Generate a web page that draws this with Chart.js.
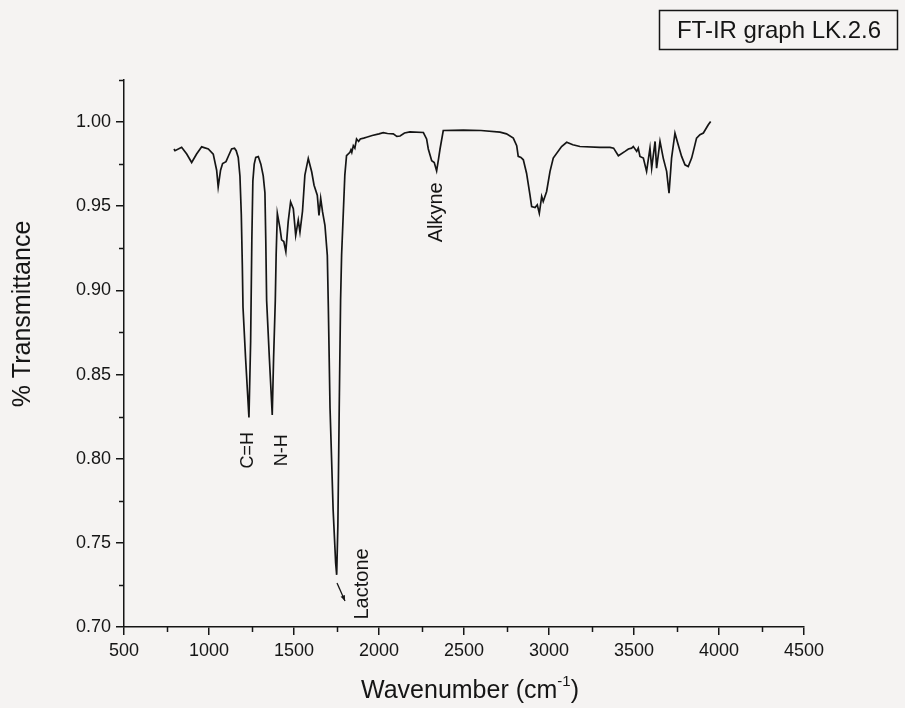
<!DOCTYPE html>
<html><head><meta charset="utf-8">
<script src="https://cdn.jsdelivr.net/npm/chart.js@4.4.0/dist/chart.umd.min.js"></script>
<style>html,body{margin:0;padding:0;background:#f5f3f2;} canvas{display:block}</style>
</head><body>
<canvas id="c" width="905" height="708"></canvas>
<script>
const wavenumbers = [794,800,839,869,898,927,957,996,1025,1045,1054,1068,1080,1100,1115,1133,1150,1160,1172,1182,1190,1196,1200,1215,1235,1245,1252,1258,1266,1275,1290,1305,1319,1329,1334,1339,1355,1372,1380,1390,1395,1402,1418,1427,1440,1452,1466,1480,1496,1510,1525,1535,1550,1564,1584,1604,1618,1637,1647,1657,1668,1682,1696,1702,1712,1730,1745,1751,1758,1766,1774,1780,1799,1809,1829,1835,1840,1849,1858,1868,1880,1890,1910,1927,1960,2000,2025,2050,2084,2105,2124,2150,2182,2261,2280,2290,2310,2325,2339,2350,2359,2378,2496,2600,2712,2750,2790,2810,2819,2835,2849,2868,2888,2898,2918,2931,2943,2957,2966,2986,3006,3025,3074,3104,3140,3182,3300,3359,3380,3408,3447,3467,3486,3496,3516,3525,3535,3555,3574,3594,3604,3624,3633,3653,3672,3692,3706,3721,3741,3760,3780,3800,3819,3839,3849,3868,3888,3908,3937,3951];
const transmittance = [0.984,0.983,0.985,0.981,0.976,0.981,0.9853,0.984,0.981,0.9714,0.9615,0.9714,0.9754,0.9765,0.980,0.984,0.9845,0.983,0.979,0.968,0.945,0.915,0.89,0.86,0.8245,0.87,0.93,0.965,0.975,0.979,0.9795,0.975,0.968,0.958,0.93,0.894,0.86,0.826,0.86,0.894,0.921,0.9457,0.9367,0.930,0.929,0.923,0.941,0.9526,0.9486,0.9327,0.9417,0.9347,0.947,0.9685,0.9784,0.9705,0.9625,0.9565,0.9446,0.9546,0.9466,0.9387,0.9208,0.89,0.83,0.77,0.738,0.731,0.76,0.83,0.894,0.921,0.9685,0.980,0.982,0.9835,0.982,0.986,0.9845,0.990,0.9885,0.990,0.9905,0.991,0.992,0.993,0.9937,0.9932,0.993,0.9915,0.9917,0.9935,0.9942,0.9938,0.990,0.984,0.977,0.976,0.971,0.978,0.984,0.995,0.9952,0.995,0.994,0.993,0.9905,0.986,0.9796,0.979,0.9776,0.9696,0.9567,0.9498,0.9492,0.9508,0.9458,0.9558,0.9528,0.9588,0.9707,0.9786,0.9855,0.988,0.9865,0.9855,0.985,0.985,0.9845,0.980,0.9826,0.984,0.9845,0.9855,0.9826,0.9845,0.9796,0.9786,0.9707,0.9845,0.9726,0.9885,0.9726,0.9885,0.9786,0.9707,0.9577,0.9786,0.9934,0.9865,0.9796,0.9746,0.9736,0.9786,0.9826,0.9905,0.9925,0.9935,0.9984,1.0004];
const xTickValues = [500,1000,1500,2000,2500,3000,3500,4000,4500];
const yTickValues = [0.70,0.75,0.80,0.85,0.90,0.95,1.00];
const xMinorTicks = [750,1250,1750,2250,2750,3250,3750,4250];
const yMinorTicks = [0.725,0.775,0.825,0.875,0.925,0.975,1.025];
const peakLabels = ['C=H','N-H','Lactone','Alkyne'];
const chartTitle = 'FT-IR graph LK.2.6';
const xTitle = 'Wavenumber (cm';
const xTitleSup = '-1';
const yTitle = '% Transmittance';

const FONT = '"Liberation Sans", Arial, sans-serif';
const INK = '#151515';
const PAPER = '#f5f3f2';

const decor = {
  id: 'decor',
  beforeDraw(chart) {
    const ctx = chart.ctx;
    ctx.save();
    ctx.fillStyle = PAPER;
    ctx.fillRect(0, 0, chart.width, chart.height);
    ctx.restore();
  },
  afterDraw(chart) {
    const ctx = chart.ctx;
    const xs = chart.scales.x, ys = chart.scales.y;
    const area = chart.chartArea;
    ctx.save();
    ctx.strokeStyle = INK;
    ctx.lineWidth = 1.5;
    // minor ticks
    ctx.beginPath();
    xMinorTicks.forEach(v => {
      const px = Math.round(xs.getPixelForValue(v)) + 0.5;
      ctx.moveTo(px, area.bottom);
      ctx.lineTo(px, area.bottom + 5);
    });
    yMinorTicks.forEach(v => {
      const py = Math.round(ys.getPixelForValue(v)) + 0.5;
      ctx.moveTo(area.left, py);
      ctx.lineTo(area.left - 5, py);
    });
    ctx.stroke();

    ctx.fillStyle = INK;
    // y title
    ctx.save();
    ctx.translate(23, 314);
    ctx.rotate(-Math.PI / 2);
    ctx.font = '25px ' + FONT;
    ctx.textAlign = 'center';
    ctx.textBaseline = 'middle';
    ctx.fillText(yTitle, 0, 0);
    ctx.restore();

    // x title with superscript
    ctx.font = '25px ' + FONT;
    const w1 = ctx.measureText(xTitle).width;
    ctx.font = '15px ' + FONT;
    const w2 = ctx.measureText(xTitleSup).width;
    ctx.font = '25px ' + FONT;
    const w3 = ctx.measureText(')').width;
    let sx = 470 - (w1 + w2 + w3) / 2;
    ctx.textAlign = 'left';
    ctx.textBaseline = 'alphabetic';
    const by = 698;
    ctx.fillText(xTitle, sx, by);
    ctx.font = '15px ' + FONT;
    ctx.fillText(xTitleSup, sx + w1, by - 12);
    ctx.font = '25px ' + FONT;
    ctx.fillText(')', sx + w1 + w2, by);

    // title box
    ctx.lineWidth = 1.5;
    ctx.strokeRect(659.5, 10.5, 238, 39);
    ctx.font = '24px ' + FONT;
    ctx.textAlign = 'center';
    ctx.textBaseline = 'middle';
    ctx.fillText(chartTitle, 779, 31);

    // peak labels (rotated)
    const labelAt = (text, wn, t, size) => {
      ctx.save();
      ctx.translate(xs.getPixelForValue(wn), ys.getPixelForValue(t));
      ctx.rotate(-Math.PI / 2);
      ctx.font = size + 'px ' + FONT;
      ctx.textAlign = 'center';
      ctx.textBaseline = 'middle';
      ctx.fillText(text, 0, 0);
      ctx.restore();
    };
    labelAt(peakLabels[0], 1232, 0.805, 18);
    labelAt(peakLabels[1], 1432, 0.805, 18);
    labelAt(peakLabels[2], 1900, 0.7256, 20);
    labelAt(peakLabels[3], 2341, 0.9464, 20);

    // arrow toward Lactone minimum
    const ax1 = xs.getPixelForValue(1753), ay1 = ys.getPixelForValue(0.7262);
    const ax2 = xs.getPixelForValue(1800), ay2 = ys.getPixelForValue(0.7155);
    ctx.lineWidth = 1.3;
    ctx.beginPath();
    ctx.moveTo(ax1, ay1);
    ctx.lineTo(ax2, ay2);
    ctx.stroke();
    const ang = Math.atan2(ay2 - ay1, ax2 - ax1);
    ctx.beginPath();
    ctx.moveTo(ax2, ay2);
    ctx.lineTo(ax2 - 6 * Math.cos(ang - 0.4), ay2 - 6 * Math.sin(ang - 0.4));
    ctx.lineTo(ax2 - 6 * Math.cos(ang + 0.4), ay2 - 6 * Math.sin(ang + 0.4));
    ctx.closePath();
    ctx.fill();
    ctx.restore();
  }
};

new Chart(document.getElementById('c'), {
  type: 'line',
  data: {
    datasets: [{
      data: wavenumbers.map((x, i) => ({ x, y: transmittance[i] })),
      borderColor: INK,
      borderWidth: 1.7,
      pointRadius: 0,
      tension: 0,
      fill: false
    }]
  },
  options: {
    responsive: false,
    animation: false,
    devicePixelRatio: 1,
    layout: { padding: { left: 0, top: 80, right: 101, bottom: 0 } },
    plugins: { legend: { display: false }, tooltip: { enabled: false }, title: { display: false } },
    scales: {
      x: {
        type: 'linear', min: 500, max: 4500,
        afterFit: s => { s.height = 81; },
        afterBuildTicks: s => { s.ticks = xTickValues.map(v => ({ value: v })); },
        border: { color: INK, width: 1.5 },
        grid: { drawOnChartArea: false, tickLength: 8, tickColor: INK, lineWidth: 1.5 },
        ticks: { color: INK, font: { family: FONT, size: 18 }, padding: 5, maxRotation: 0, autoSkip: false,
                 callback: v => String(v) }
      },
      y: {
        type: 'linear', min: 0.70, max: 1.025,
        afterFit: s => { s.width = 124; },
        afterBuildTicks: s => { s.ticks = yTickValues.map(v => ({ value: v })); },
        border: { color: INK, width: 1.5 },
        grid: { drawOnChartArea: false, tickLength: 8, tickColor: INK, lineWidth: 1.5 },
        ticks: { color: INK, font: { family: FONT, size: 18 }, padding: 5, autoSkip: false,
                 callback: v => Number(v).toFixed(2) }
      }
    }
  },
  plugins: [decor]
});
</script>
</body></html>
